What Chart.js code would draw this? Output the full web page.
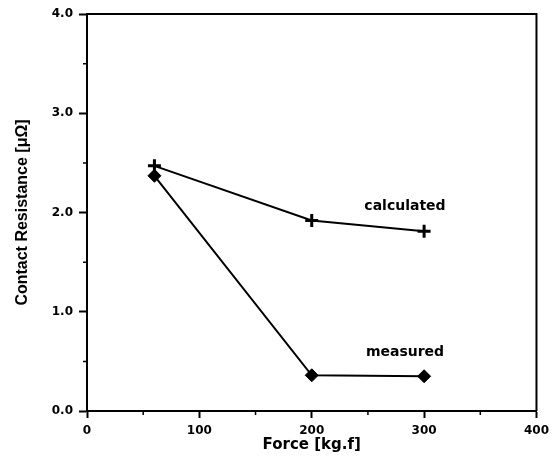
<!DOCTYPE html>
<html>
<head>
<meta charset="utf-8">
<script src="https://cdn.jsdelivr.net/npm/chart.js@4/dist/chart.umd.min.js"></script>
<style>
  html, body { margin: 0; padding: 0; background: #fff; }
  #wrap { width: 555px; height: 464px; }
</style>
</head>
<body>
<div id="wrap"><canvas id="forceChart"></canvas></div>
<script>
  // ----- data
  const forceKgf = [60, 200, 300];
  const calculated = [2.47, 1.92, 1.81];
  const measured = [2.37, 0.36, 0.35];
  const xTicks = [0, 100, 200, 300, 400];
  const yTicks = [0.0, 1.0, 2.0, 3.0, 4.0];

  const tickFont = { family: 'DejaVu Sans', weight: 'bold', size: 12 };

  // minor ticks, frame and series names
  const extras = {
    id: 'extras',
    afterDraw(chart) {
      const c = chart.ctx;
      const a = chart.chartArea;
      const x = chart.scales.x, y = chart.scales.y;
      c.save();
      c.strokeStyle = '#000';
      c.lineWidth = 1.5;
      c.beginPath();
      for (let v = 50; v < 400; v += 100) {
        const px = x.getPixelForValue(v);
        c.moveTo(px, a.bottom);
        c.lineTo(px, a.bottom + 4);
      }
      for (let v = 0.5; v < 4; v += 1) {
        const py = y.getPixelForValue(v);
        c.moveTo(a.left, py);
        c.lineTo(a.left - 4, py);
      }
      c.stroke();
      c.lineWidth = 2;
      c.beginPath();
      c.moveTo(a.left, a.top);
      c.lineTo(a.right, a.top);
      c.lineTo(a.right, a.bottom);
      c.stroke();

      c.fillStyle = '#000';
      c.font = 'bold 14px "DejaVu Sans"';
      c.textAlign = 'center';
      c.textBaseline = 'middle';
      c.fillText('calculated', x.getPixelForValue(283), y.getPixelForValue(2.06));
      c.fillText('measured', x.getPixelForValue(283), y.getPixelForValue(0.59));
      c.restore();
    }
  };

  var ctx = document.getElementById('forceChart');

  new Chart(ctx, {
    type: 'line',
    data: {
      datasets: [{
        label: 'calculated',
        data: forceKgf.map((f, i) => ({ x: f, y: calculated[i] })),
        borderColor: '#000',
        borderWidth: 2,
        pointStyle: 'cross',
        pointRadius: 6.5,
        pointBorderWidth: 3,
        pointBorderColor: '#000'
      }, {
        label: 'measured',
        data: forceKgf.map((f, i) => ({ x: f, y: measured[i] })),
        borderColor: '#000',
        borderWidth: 2,
        pointStyle: 'rectRot',
        pointRadius: 6.5,
        pointBackgroundColor: '#000',
        pointBorderColor: '#000',
        pointBorderWidth: 1
      }]
    },
    options: {
      responsive: true,
      maintainAspectRatio: false,
      animation: false,
      layout: { padding: { top: 14, right: 18, left: 0, bottom: 0 } },
      plugins: { legend: { display: false }, tooltip: { enabled: false } },
      scales: {
        x: {
          type: 'linear',
          min: 0,
          max: 400,
          afterBuildTicks: (s) => { s.ticks = xTicks.map(v => ({ value: v })); },
          afterFit: (s) => { s.height = 53; },
          ticks: { font: tickFont, color: '#000', padding: 6, maxRotation: 0 },
          grid: { drawOnChartArea: false, tickLength: 7, tickWidth: 2, tickColor: '#000' },
          border: { color: '#000', width: 2 },
          title: {
            display: true,
            text: 'Force [kg.f]',
            color: '#000',
            font: { family: 'DejaVu Sans', weight: 'bold', size: 15 },
            padding: { top: 2, bottom: 10 }
          }
        },
        y: {
          min: 0,
          max: 4,
          afterBuildTicks: (s) => { s.ticks = yTicks.map(v => ({ value: v })); },
          afterFit: (s) => { s.width = 87; },
          ticks: { font: tickFont, color: '#000', padding: 6, callback: (v) => v.toFixed(1) },
          grid: { drawOnChartArea: false, tickLength: 8, tickWidth: 2, tickColor: '#000' },
          border: { color: '#000', width: 2 },
          title: {
            display: true,
            text: 'Contact Resistance [\u03bc\u03a9]',
            color: '#000',
            font: { family: 'Liberation Sans', weight: 'bold', size: 16 },
            padding: { top: 13, bottom: 0 }
          }
        }
      }
    },
    plugins: [extras]
  });
</script>
</body>
</html>
